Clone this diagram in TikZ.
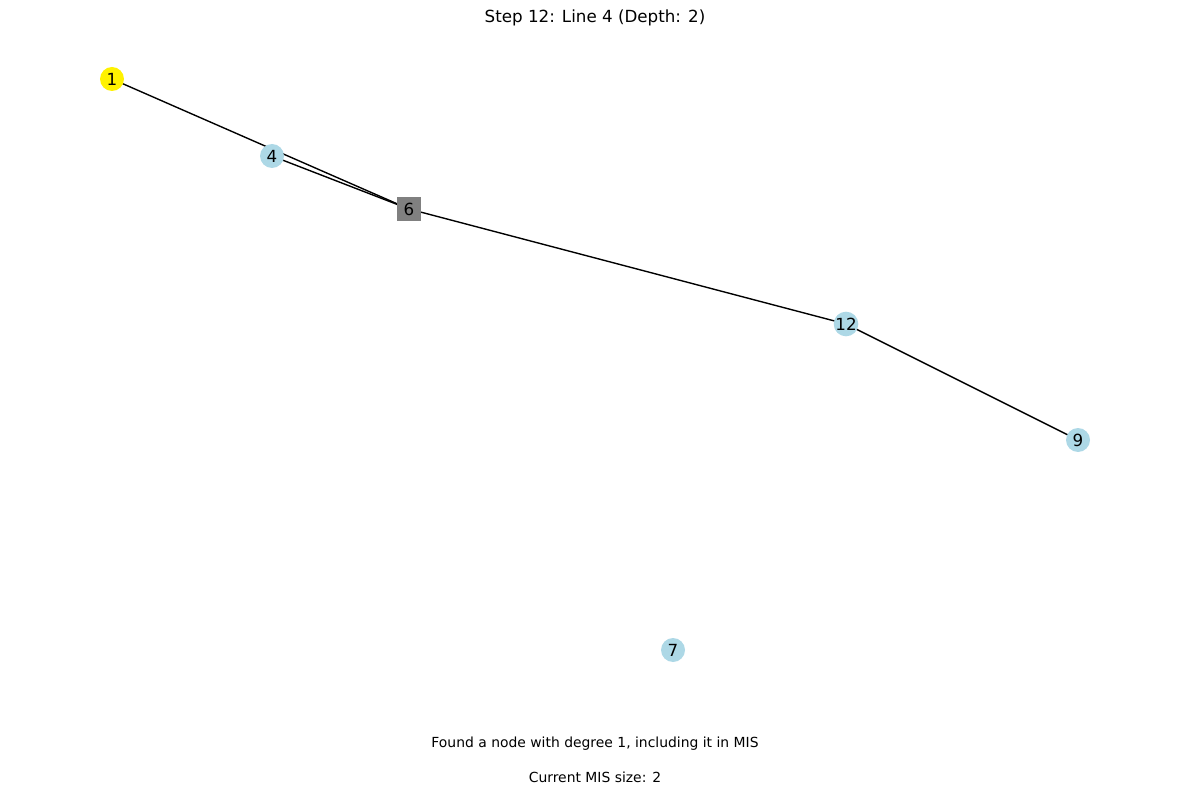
\documentclass[tikz,border=0pt]{standalone}
\usepackage{fontspec}
\setmainfont{DejaVu Sans}
\definecolor{lb}{HTML}{ADD8E6}
\definecolor{gr}{HTML}{808080}
\begin{document}
\begin{tikzpicture}[x=1pt,y=-1pt,
  vert/.style={circle,fill=lb,minimum size=24pt,inner sep=0pt,font=\fontsize{16.7}{18}\selectfont},
  hl/.style={vert,fill=yellow},
  sq/.style={rectangle,fill=gr,minimum size=24pt,inner sep=0pt,font=\fontsize{16.7}{18}\selectfont},
  edge/.style={line width=1.39pt,black},
  captext/.style={font=\fontsize{13.9}{16}\selectfont}]
\useasboundingbox (0,0) rectangle (1189,794);
\coordinate (p1) at (112,79);
\coordinate (p4) at (272,156);
\coordinate (p6) at (409,209);
\coordinate (p12) at (846,324);
\coordinate (p9) at (1078,440);
\draw[edge] (p1) -- (p6);
\draw[edge] (p4) -- (p6);
\draw[edge] (p6) -- (p12);
\draw[edge] (p12) -- (p9);
\node[hl] (n1) at (p1) {1};
\node[vert] (n4) at (p4) {4};
\node[sq] (n6) at (p6) {6};
\node[vert] (n12) at (p12) {12};
\node[vert] (n9) at (p9) {9};
\node[vert] (n7) at (673,650) {7};
\node[font=\fontsize{16.7}{18}\selectfont] (title) at (595,18) {Step 12: Line 4 (Depth: 2)};
\node[captext] (msg) at (595,744) {Found a node with degree 1, including it in MIS};
\node[captext] (size) at (595,777) {Current MIS size: 2};
\end{tikzpicture}
\end{document}
